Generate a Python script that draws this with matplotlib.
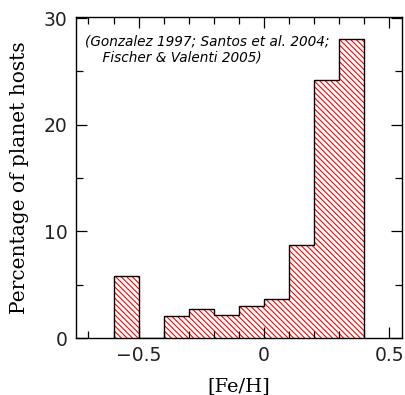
import numpy as np
import matplotlib
matplotlib.use("Agg")
from matplotlib import pyplot as plt
from matplotlib.ticker import MultipleLocator

# bins in [Fe/H], width 0.1
bin_edges = [-0.6, -0.5, -0.4, -0.3, -0.2, -0.1, 0.0, 0.1, 0.2, 0.3, 0.4]
percent = [5.8, 0.0, 2.05, 2.75, 2.2, 3.0, 3.65, 8.75, 24.2, 28.0]
xtick_vals = [-0.5, 0, 0.5]
xtick_text = ['\u22120.5', '0', '0.5']
ytick_vals = [0, 10, 20, 30]
note = "(Gonzalez 1997; Santos et al. 2004;\n    Fischer & Valenti 2005)"

plt.rcParams['hatch.linewidth'] = 0.8

fig = plt.figure(figsize=(4.06, 3.95), dpi=100)
ax = fig.add_axes([0.187, 0.144, 0.803, 0.813])

edges = np.array(bin_edges)
widths = np.diff(edges)
# hatched fill (red), then black step outline
ax.bar(edges[:-1], percent, width=widths, align='edge', fill=False,
       hatch='\\\\\\\\\\\\', edgecolor='red', linewidth=0)
ax.stairs(percent, edges, color='black', linewidth=1.0, baseline=0)

ax.set_xlim(-0.75, 0.55)
ax.set_ylim(0, 30.1)
ax.xaxis.set_minor_locator(MultipleLocator(0.1))
ax.yaxis.set_minor_locator(MultipleLocator(5))
ax.set_xticks(xtick_vals)
ax.set_xticklabels(xtick_text)
ax.set_yticks(ytick_vals)
ax.tick_params(which='both', direction='in', top=True, right=True, width=0.9)
ax.tick_params(which='major', length=8, labelsize=13.5, pad=6)
ax.tick_params(which='minor', length=5)
for lab in ax.get_xticklabels() + ax.get_yticklabels():
    lab.set_family('DejaVu Sans')
    lab.set_color('#222222')
for s in ax.spines.values():
    s.set_linewidth(1.0)

ax.set_xlabel('[Fe/H]', family='DejaVu Serif', fontsize=14, labelpad=8)
ax.set_ylabel('Percentage of planet hosts', family='DejaVu Serif', fontsize=14.5, labelpad=11)

ax.text(0.028, 0.945, note, transform=ax.transAxes, fontsize=9.8, style='italic',
        va='top', ha='left', linespacing=1.15)

fig.savefig('out.png', dpi=100)
